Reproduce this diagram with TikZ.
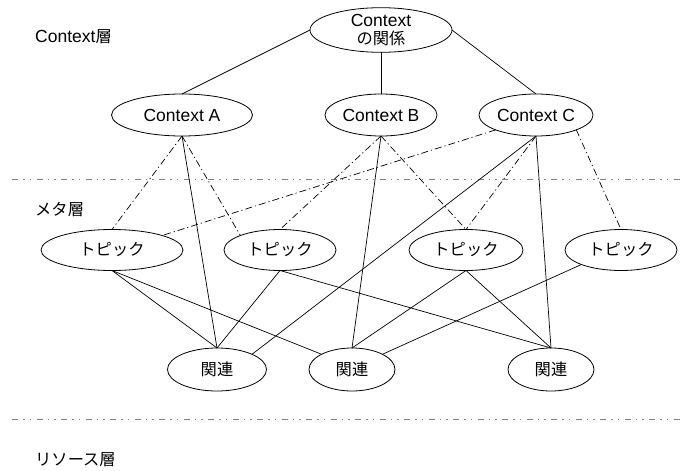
\documentclass[tikz,border=0pt]{standalone}
\usepackage{fontspec}
\usetikzlibrary{shapes.geometric}
\setmainfont{Liberation Sans}
\newfontfamily\jpfont[Scale=0.93]{Noto Sans CJK JP}
\newcommand{\jp}[1]{{\jpfont #1}}

\begin{document}
\begin{tikzpicture}[x=1pt,y=-1pt,
  ent/.style={draw, ellipse, inner sep=0pt, outer sep=0pt, line width=0.8pt,
    font=\fontsize{17.5}{19}\selectfont, align=center},
  link/.style={line width=0.7pt},
  metalink/.style={line width=0.7pt, dash pattern=on 7pt off 3pt on 1.2pt off 3pt},
  layerline/.style={black!50, line width=1pt,
    dash pattern=on 6pt off 5pt on 1.5pt off 5pt on 1.5pt off 5.5pt},
  layerlabel/.style={anchor=west, inner sep=0pt, font=\fontsize{17.5}{19}\selectfont}
]
\useasboundingbox (0,0) rectangle (680,471);

% layer separators
\coordinate (sep1l) at (12,179);
\coordinate (sep1r) at (680,179);
\coordinate (sep2l) at (12,419);
\coordinate (sep2r) at (680,419);
\draw[layerline] (sep1l) -- (sep1r);
\draw[layerline] (sep2l) -- (sep2r);

% layer names
\node[layerlabel] (lctx) at (35,37) {Context\jp{層}};
\node[layerlabel] (lmeta) at (35,210) {\jp{メタ層}};
\node[layerlabel] (lres) at (35,460) {\jp{リソース層}};

% context layer
\node[ent, minimum width=142pt, minimum height=44pt] (root) at (381,30) {Context\\[-1pt]\jp{の関係}};
\node[ent, minimum width=141pt, minimum height=42pt] (ca) at (182,115) {Context A};
\node[ent, minimum width=112pt, minimum height=42pt] (cb) at (381,115) {Context B};
\node[ent, minimum width=114pt, minimum height=42pt] (cc) at (536,115) {Context C};

% topics
\node[ent, minimum width=142pt, minimum height=41pt] (t1) at (112,250) {\jp{トピック}};
\node[ent, minimum width=112pt, minimum height=41pt] (t2) at (280,250) {\jp{トピック}};
\node[ent, minimum width=114pt, minimum height=41pt] (t3) at (466,250) {\jp{トピック}};
\node[ent, minimum width=112pt, minimum height=41pt] (t4) at (621,250) {\jp{トピック}};

% relations
\node[ent, minimum width=99pt, minimum height=43pt] (r1) at (217,369.5) {\jp{関連}};
\node[ent, minimum width=86pt, minimum height=43pt] (r2) at (352,369.5) {\jp{関連}};
\node[ent, minimum width=86pt, minimum height=43pt] (r3) at (551,369.5) {\jp{関連}};

% context hierarchy
\draw[link] (root.west) -- (ca.north);
\draw[link] (root.south) -- (cb.north);
\draw[link] (root.east) -- (cc.north);

% contexts to topics
\draw[metalink] (ca.south) -- (t1.north);
\draw[metalink] (ca.south) -- (t2.north west);
\draw[metalink] (cb.south) -- (t2.north);
\draw[metalink] (cb.south) -- (t3.north);
\draw[metalink] (cc.south west) -- (t1.north east);
\draw[metalink] (cc.south) -- (t3.north);
\draw[metalink] (cc.south east) -- (t4.north);

% contexts to relations
\draw[link] (ca.south) -- (r1.north);
\draw[link] (cb.south) -- (r2.north);
\draw[link] (cc.south) -- (r1.north east);
\draw[link] (cc.south) -- (r3.north);

% topics to relations
\draw[link] (t1.south) -- (r1.north);
\draw[link] (t1.south) -- (r2.north west);
\draw[link] (t2.south) -- (r1.north);
\draw[link] (t2.south) -- (r3.north);
\draw[link] (t3.south) -- (r2.north);
\draw[link] (t3.south) -- (r3.north);
\draw[link] (t4.south west) -- (r2.north east);
\end{tikzpicture}
\end{document}
